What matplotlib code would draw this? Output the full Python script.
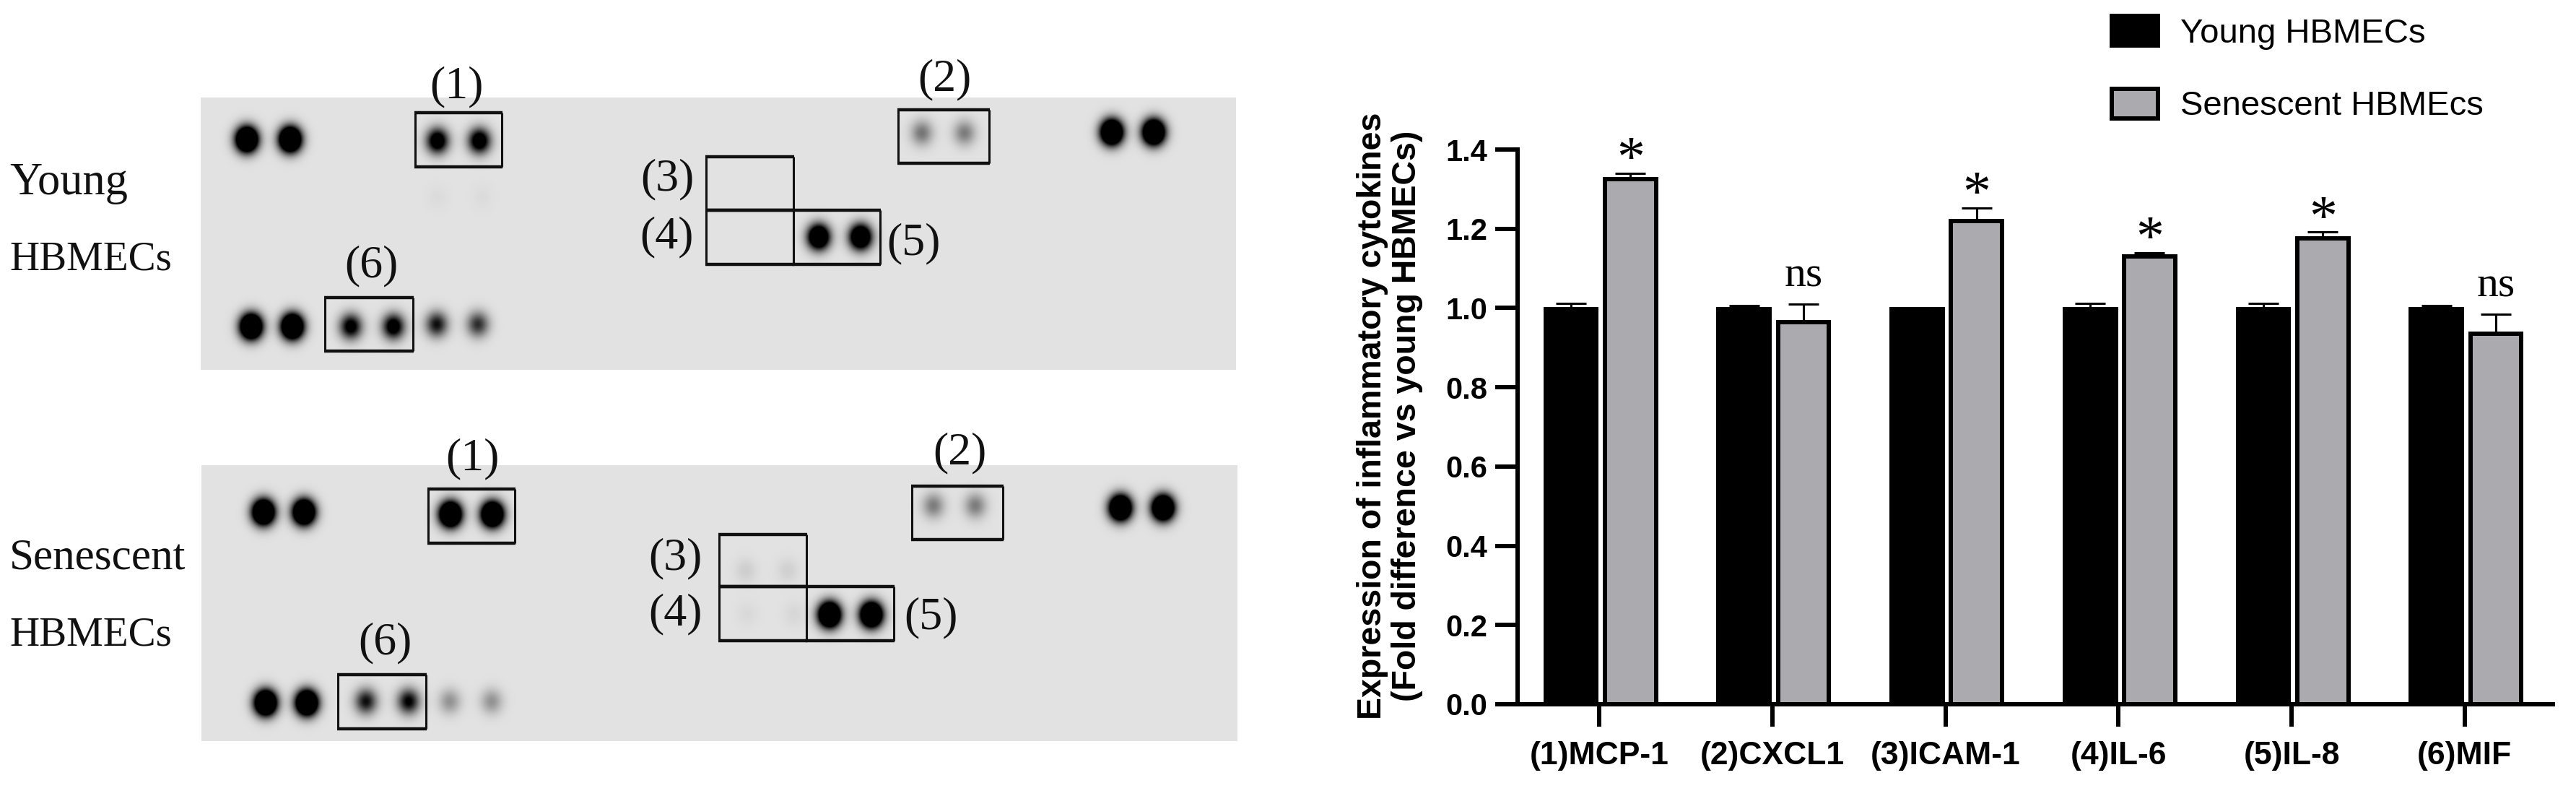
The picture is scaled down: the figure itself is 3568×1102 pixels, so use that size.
import matplotlib
matplotlib.use('Agg')
import matplotlib.pyplot as plt
import numpy as np
from matplotlib.patches import Patch

W, H = 3568, 1102
SERIF = 'Liberation Serif'
SANS = 'Liberation Sans'

# bar chart values
cytokines = ['(1)MCP-1', '(2)CXCL1', '(3)ICAM-1', '(4)IL-6', '(5)IL-8', '(6)MIF']
young = [0.997, 0.997, 0.997, 0.997, 0.997, 0.997]
young_err = [0.014, 0.01, 0.004, 0.014, 0.014, 0.01]
senescent = [1.325, 0.965, 1.22, 1.13, 1.175, 0.935]
senescent_err = [0.015, 0.045, 0.033, 0.01, 0.017, 0.05]
signif = ['*', 'ns', '*', '*', '*', 'ns']
yticks = [0.0, 0.2, 0.4, 0.6, 0.8, 1.0, 1.2, 1.4]

# blot panels: spots are (x, y, darkness) in image pixels
young_panel = (278, 1712, 135, 512)
young_spots = [(342, 193, 2.6), (402, 193, 2.6), (606, 195, 1.4), (664, 195, 1.4),
               (1277, 184, 0.48), (1336, 184, 0.45), (1540, 183, 2.6), (1598, 183, 2.6),
               (1134, 328, 2.0), (1192, 328, 2.0), (348, 452, 2.6), (405, 452, 2.6),
               (486, 452, 1.2), (545, 452, 1.3), (605, 449, 0.95), (662, 449, 0.8),
               (606, 273, 0.03), (668, 273, 0.03)]
young_boxes = [(575, 695, 156, 231), (1244, 1370, 152, 226), (978, 1099, 217, 291),
               (978, 1099, 291, 366), (1099, 1219, 291, 366), (450, 572, 412, 486)]
young_labels = [('(1)', 632, 120), ('(2)', 1308, 110), ('(3)', 924, 248),
                ('(4)', 923, 328), ('(5)', 1265, 337), ('(6)', 514, 368)]

senescent_panel = (279, 1714, 644, 1026)
senescent_spots = [(365, 709, 2.6), (421, 709, 2.6), (624, 712, 2.6), (682, 712, 2.6),
                   (1293, 700, 0.45), (1351, 700, 0.45), (1552, 703, 2.6), (1611, 703, 2.6),
                   (1149, 851, 2.6), (1207, 851, 2.6), (368, 973, 2.6), (425, 973, 2.6),
                   (507, 971, 0.95), (566, 971, 1.05), (623, 971, 0.35), (681, 971, 0.35),
                   (1033, 790, 0.09), (1091, 790, 0.08), (1035, 850, 0.04), (1100, 850, 0.05)]
senescent_boxes = [(593, 713, 677, 752), (1263, 1389, 673, 747), (996, 1117, 740, 812),
                   (996, 1117, 812, 887), (1117, 1238, 812, 887), (468, 590, 934, 1009)]
senescent_labels = [('(1)', 654, 635), ('(2)', 1329, 627), ('(3)', 935, 773),
                    ('(4)', 935, 850), ('(5)', 1289, 855), ('(6)', 533, 890)]

row_labels = [('Young', 13, 254, 45), ('HBMECs', 13, 359, 41),
              ('Senescent', 13, 773, 44), ('HBMECs', 13, 879, 41)]

fig = plt.figure(figsize=(W / 100, H / 100), dpi=100, facecolor='white')

# left half is drawn in image pixels
bg = fig.add_axes([0, 0, 1, 1])
bg.set_xlim(0, W)
bg.set_ylim(H, 0)
bg.axis('off')


def draw_blot(panel, spots, boxes, labels):
    x0, x1, y0, y1 = panel
    xx, yy = np.meshgrid(np.arange(x0, x1) + 0.5, np.arange(y0, y1) + 0.5)
    dark = np.zeros_like(xx)
    for sx, sy, amp in spots:
        dark += amp * np.exp(-((xx - sx) ** 2 / (2 * 10.5 ** 2) + (yy - sy) ** 2 / (2 * 12.0 ** 2)))
    grey = 0.885 * (1 - np.clip(dark, 0, 1))
    bg.imshow(grey, cmap='gray', vmin=0, vmax=1, extent=(x0, x1, y1, y0), aspect='auto',
              interpolation='bilinear')
    for bx0, bx1, by0, by1 in boxes:
        bg.plot([bx0, bx0], [by0, by1], color='#111111', lw=2.2, solid_capstyle='butt')
        bg.plot([bx1, bx1], [by0, by1], color='#111111', lw=2.2, solid_capstyle='butt')
        bg.plot([bx0 - 1, bx1 + 1], [by0, by0], color='#111111', lw=3.2, solid_capstyle='butt')
        bg.plot([bx0 - 1, bx1 + 1], [by1, by1], color='#111111', lw=3.2, solid_capstyle='butt')
    for txt, tx, ty in labels:
        bg.text(tx, ty, txt, family=SERIF, fontsize=46, ha='center', va='center', color='#111111')


draw_blot(young_panel, young_spots, young_boxes, young_labels)
draw_blot(senescent_panel, senescent_spots, senescent_boxes, senescent_labels)
bg.set_xlim(0, W)
bg.set_ylim(H, 0)
for txt, tx, ty, size in row_labels:
    bg.text(tx, ty, txt, family=SERIF, fontsize=size, ha='left', va='center', color='#111111')

# bar chart
left, right, bottom, top = 2102, 3536, 975, 207
ax = fig.add_axes([left / W, 1 - bottom / H, (right - left) / W, (bottom - top) / H])
x = np.arange(len(cytokines))
width = 0.295
off_y, off_s = -0.163, 0.18
ax.bar(x + off_y, young, width, color='black', edgecolor='black', linewidth=4.3)
ax.bar(x + off_s, senescent, width, color='#ABABAF', edgecolor='black', linewidth=4.3)
ax.errorbar(x + off_y, young, yerr=[np.zeros(6), young_err], fmt='none', ecolor='black',
            elinewidth=2.2, capsize=15, capthick=2.2)
ax.errorbar(x + off_s, senescent, yerr=[np.zeros(6), senescent_err], fmt='none', ecolor='black',
            elinewidth=2.2, capsize=15, capthick=2.2)
for i, s in enumerate(signif):
    ytop = senescent[i] + senescent_err[i]
    if s == '*':
        ax.annotate(s, (x[i] + off_s, ytop), xytext=(0, -14), textcoords='offset points', family=SERIF,
                    fontsize=56, ha='center', va='bottom', annotation_clip=False)
    else:
        ax.annotate(s, (x[i] + off_s, ytop), xytext=(0, 8), textcoords='offset points', family=SERIF,
                    fontsize=43, ha='center', va='bottom', annotation_clip=False)
ax.set_xlim(-0.472, 5.51)
ax.set_ylim(0, 1.4)
ax.set_yticks(yticks)
ax.set_yticklabels(['%.1f' % t for t in yticks], family=SANS, fontweight='bold', fontsize=30)
ax.set_xticks(x)
ax.set_xticklabels(cytokines, family=SANS, fontweight='bold', fontsize=32)
ax.tick_params(axis='both', width=4.3, length=22, pad=8)
ax.tick_params(axis='x', pad=15)
for side in ['top', 'right']:
    ax.spines[side].set_visible(False)
for side in ['left', 'bottom']:
    ax.spines[side].set_linewidth(4.3)
ax.patch.set_alpha(0)

bg.text(1925, 576, 'Expression of inflammatory cytokines\n(Fold difference vs young HBMECs)',
        family=SANS, fontweight='bold', fontsize=33.5, rotation=90, ha='center', va='center',
        multialignment='center', linespacing=1.12)

handles = [Patch(facecolor='black', edgecolor='black', linewidth=4.3),
           Patch(facecolor='#ABABAF', edgecolor='black', linewidth=4.3)]
fig.legend(handles, ['Young HBMECs', 'Senescent HBMEcs'], loc='upper left',
           bbox_to_anchor=(2925 / W, 1 - 22 / H), frameon=False, borderpad=0, borderaxespad=0,
           prop={'family': SANS, 'size': 34}, handlelength=1.36, handleheight=0.95,
           handletextpad=0.66, labelspacing=1.15)

fig.savefig('out.png', dpi=100)
